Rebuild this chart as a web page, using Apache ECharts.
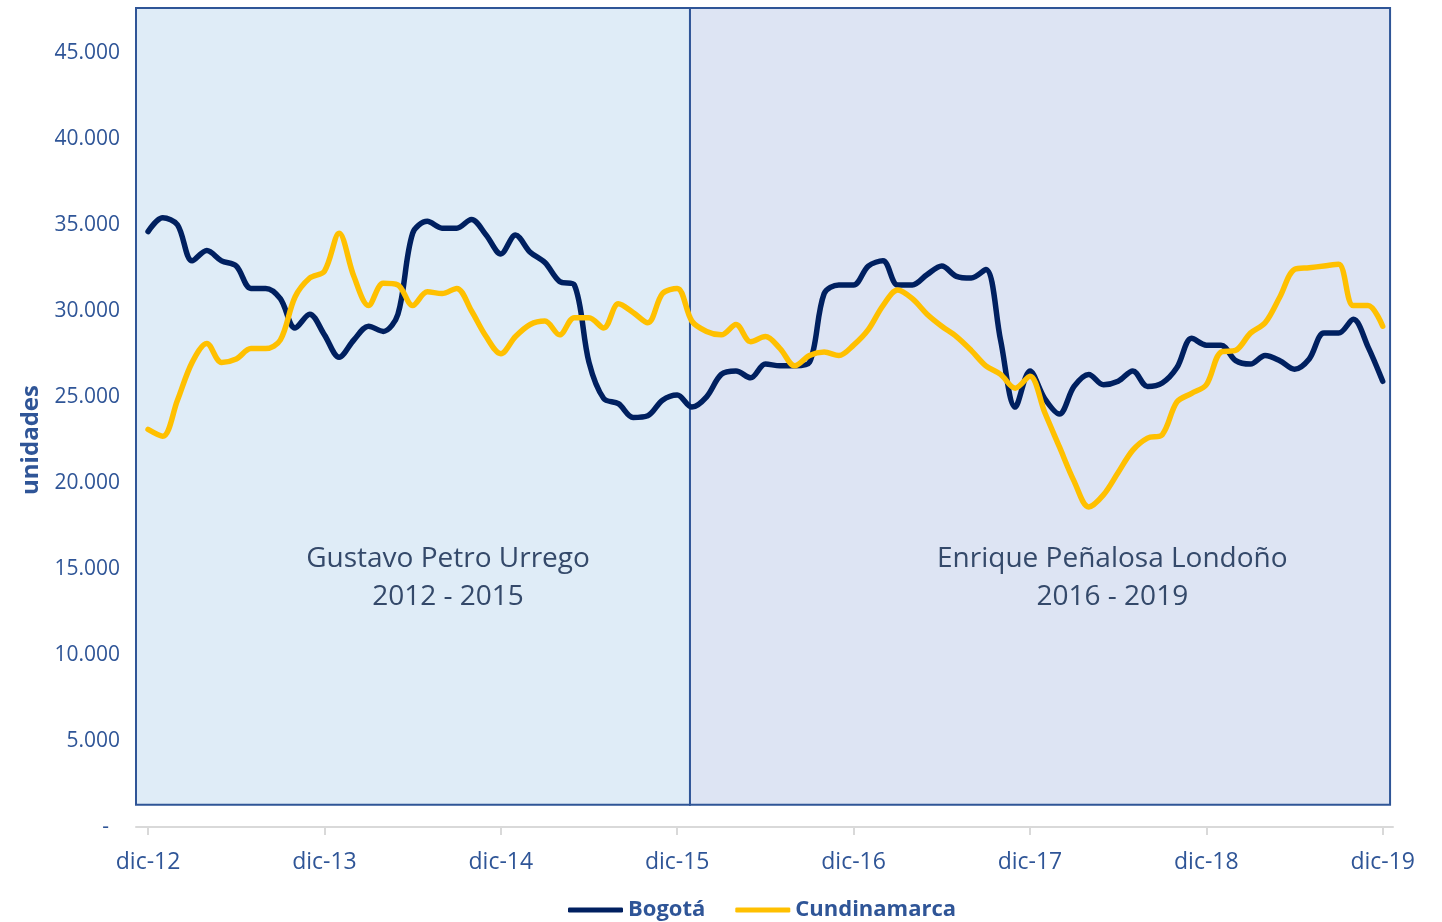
<!DOCTYPE html>
<html>
<head>
<meta charset="utf-8">
<title>Bogotá vs Cundinamarca</title>
<script src="https://cdn.jsdelivr.net/npm/echarts@6/dist/echarts.min.js"></script>
<style>
  html, body { margin: 0; padding: 0; background: #fff; }
  #chart { width: 1442px; height: 922px; }
</style>
</head>
<body>
<div id="chart"></div>
<script>
// months counted from dic-12 (0) to dic-19 (84)
var tickMonths = [0, 12, 24, 36, 48, 60, 72, 84];
var tickLabels = ['dic-12', 'dic-13', 'dic-14', 'dic-15', 'dic-16', 'dic-17', 'dic-18', 'dic-19'];

var bogota = [34600, 35400, 35000, 32900, 33500, 32900, 32600, 31300, 31300, 30700,
    29000, 29800, 28600, 27300, 28300, 29100, 28800, 29800, 34500, 35200,
    34800, 34800, 35300, 34400, 33300, 34400, 33400, 32800, 31700, 31500,
    27000, 24900, 24600, 23800, 23900, 24800, 25100, 24400, 25000, 26300,
    26500, 26100, 26900, 26800, 26800, 27000, 31000, 31500, 31500, 32600,
    32900, 31500, 31500, 32100, 32600, 32000, 31900, 32400, 28300, 24400,
    26500, 24900, 24000, 25600, 26300, 25700, 25900, 26500, 25600, 25800,
    26700, 28400, 28000, 28000, 27100, 26900, 27400, 27100, 26600, 27200,
    28700, 28700, 29500, 27900, 25900];

var cundinamarca = [23100, 22700, 24800, 27000, 28100, 27000, 27200, 27800, 27800, 28300,
    30800, 31900, 32300, 34500, 32000, 30300, 31600, 31500, 30300, 31100,
    31000, 31300, 30000, 28500, 27500, 28500, 29200, 29400, 28600, 29600,
    29600, 29000, 30400, 29900, 29300, 31000, 31300, 29400, 28800, 28600,
    29200, 28200, 28500, 27800, 26800, 27400, 27600, 27400, 28000, 28900,
    30300, 31200, 30700, 29800, 29100, 28500, 27700, 26800, 26300, 25500,
    26200, 24100, 22100, 20100, 18600, 19300, 20600, 21900, 22600, 22800,
    24700, 25200, 25700, 27600, 27700, 28700, 29300, 30800, 32400, 32500,
    32600, 32700, 30300, 30300, 29100];

// alcaldías (x extent in months)
var periodNames = ['Gustavo Petro Urrego\n2012 - 2015', 'Enrique Peñalosa Londoño\n2016 - 2019'];
var periodStart = [-0.82, 36.87];
var periodEnd = [36.87, 84.5];
var periodColors = ['#DFECF7', '#DDE4F3'];
var periodLabelX = ['56.3%', '60.3%'];

var blue = '#2F5597';
var font = '"Open Sans", "Noto Sans", sans-serif';

function pairs(values) {
    return values.map(function (v, i) { return [i, v]; });
}

var areas = periodNames.map(function (name, i) {
    return [{
        name: name,
        xAxis: periodStart[i],
        yAxis: 1300,
        itemStyle: { color: periodColors[i] },
        label: { position: [periodLabelX[i], '71.5%'] }
    }, {
        xAxis: periodEnd[i],
        yAxis: 47600
    }];
});

var myChart = echarts.init(document.getElementById('chart'));

var option = {
    animation: false,
    textStyle: { fontFamily: font },
    grid: {
        left: 136,
        right: 49,
        top: 1,
        bottom: 95,
        outerBoundsMode: 'none'
    },
    legend: {
        data: ['Bogotá', 'Cundinamarca'],
        bottom: -4,
        left: 563,
        icon: 'roundRect',
        itemWidth: 55,
        itemHeight: 5,
        itemGap: 30,
        textStyle: { color: blue, fontWeight: 'bold', fontSize: 22, fontFamily: font }
    },
    xAxis: {
        type: 'value',
        min: -0.82,
        max: 84.7,
        splitLine: { show: false },
        axisLine: { show: true, lineStyle: { color: '#D9D9D9', width: 2 } },
        axisTick: { show: true, customValues: tickMonths, length: 8, lineStyle: { color: '#D9D9D9', width: 2 } },
        axisLabel: {
            customValues: tickMonths,
            color: blue,
            fontSize: 23,
            margin: 24,
            formatter: function (v) {
                var k = tickMonths.indexOf(Math.round(v));
                return k >= 0 ? tickLabels[k] : '';
            }
        }
    },
    yAxis: {
        type: 'value',
        min: 0,
        max: 48000,
        interval: 5000,
        name: 'unidades',
        nameLocation: 'middle',
        nameGap: 92,
        nameTextStyle: { color: blue, fontWeight: 'bold', fontSize: 24, padding: [0, 52, 0, 0] },
        splitLine: { show: false },
        axisLine: { show: false },
        axisTick: { show: false },
        axisLabel: {
            color: blue,
            fontSize: 21,
            margin: 16,
            formatter: function (v) {
                if (v === 0) return '-  ';
                if (v % 5000 !== 0) return '';
                return (v / 1000) + '.000';
            }
        }
    },
    series: [
        {
            name: 'periodos',
            type: 'line',
            data: [],
            silent: true,
            z: 1,
            markArea: {
                silent: true,
                itemStyle: { borderColor: '#2F5597', borderWidth: 2 },
                label: {
                    show: true,
                    formatter: '{b}',
                    align: 'center',
                    verticalAlign: 'middle',
                    color: '#34496A',
                    fontSize: 28,
                    lineHeight: 38,
                    fontFamily: font
                },
                data: areas
            }
        },
        {
            name: 'Bogotá',
            type: 'line',
            data: pairs(bogota),
            smooth: 0.33,
            showSymbol: false,
            symbol: 'none',
            z: 3,
            lineStyle: { color: '#002060', width: 5.5, cap: 'round', join: 'round' },
            itemStyle: { color: '#002060' }
        },
        {
            name: 'Cundinamarca',
            type: 'line',
            data: pairs(cundinamarca),
            smooth: 0.33,
            showSymbol: false,
            symbol: 'none',
            z: 4,
            lineStyle: { color: '#FFC000', width: 5.5, cap: 'round', join: 'round' },
            itemStyle: { color: '#FFC000' }
        }
    ]
};

myChart.setOption(option);
</script>
</body>
</html>
